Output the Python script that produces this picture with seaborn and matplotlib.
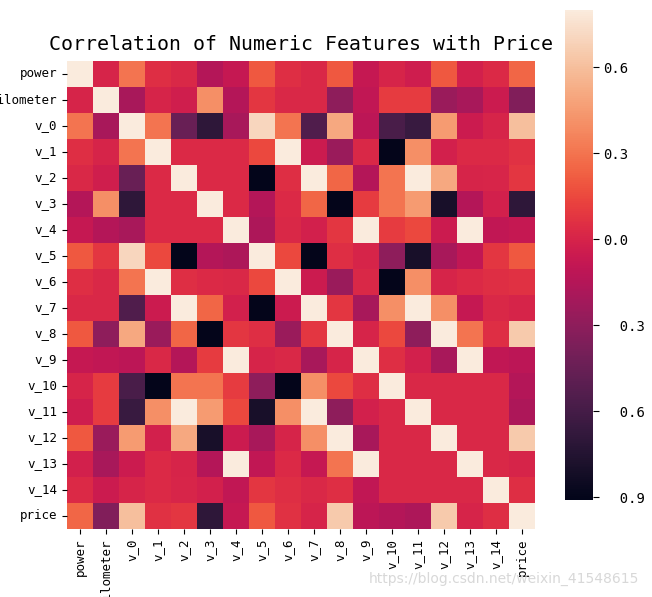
import numpy as np
import pandas as pd
import matplotlib
matplotlib.use("Agg")
import matplotlib.pyplot as plt
import seaborn as sns

labels = ["power", "kilometer", "v_0", "v_1", "v_2", "v_3", "v_4", "v_5", "v_6",
          "v_7", "v_8", "v_9", "v_10", "v_11", "v_12", "v_13", "v_14", "price"]

r_power = [1.00, 0.00, 0.30, 0.05, 0.02, -0.15, -0.08, 0.20, 0.05, 0.02, 0.20, -0.08, 0.00, -0.04, 0.20, -0.02, 0.03, 0.25]
r_kilometer = [0.00, 1.00, -0.20, 0.00, -0.03, 0.40, -0.15, 0.08, 0.02, 0.02, -0.30, -0.10, 0.10, 0.10, -0.25, -0.20, -0.05, -0.35]
r_v0 = [0.30, -0.20, 1.00, 0.30, -0.45, -0.70, -0.20, 0.70, 0.30, -0.55, 0.50, -0.12, -0.58, -0.65, 0.45, -0.05, 0.00, 0.60]
r_v1 = [0.05, 0.00, 0.30, 1.00, 0.03, 0.03, 0.03, 0.15, 0.95, -0.05, -0.25, 0.02, -0.90, 0.40, -0.02, 0.03, 0.03, 0.06]
r_v2 = [0.02, -0.03, -0.45, 0.03, 1.00, 0.03, 0.03, -0.91, 0.05, 0.80, 0.25, -0.15, 0.30, 0.80, 0.50, 0.00, 0.01, 0.08]
r_v3 = [-0.15, 0.40, -0.70, 0.03, 0.03, 1.00, 0.03, -0.15, 0.03, 0.25, -0.90, 0.10, 0.30, 0.45, -0.80, -0.15, -0.02, -0.70]
r_v4 = [-0.08, -0.15, -0.20, 0.03, 0.03, 0.03, 1.00, -0.18, 0.02, -0.02, 0.08, 0.90, 0.10, 0.15, -0.05, 0.90, -0.10, -0.08]
r_v5 = [0.20, 0.08, 0.70, 0.15, -0.91, -0.15, -0.18, 1.00, 0.15, -0.90, 0.05, 0.00, -0.30, -0.80, -0.20, -0.10, 0.08, 0.20]
r_v6 = [0.05, 0.02, 0.30, 0.95, 0.05, 0.03, 0.02, 0.15, 1.00, -0.05, -0.25, 0.02, -0.90, 0.40, 0.00, 0.03, 0.05, 0.06]
r_v7 = [0.02, 0.02, -0.55, -0.05, 0.80, 0.25, -0.02, -0.90, -0.05, 1.00, 0.08, -0.20, 0.40, 0.85, 0.40, -0.08, 0.02, 0.00]
r_v8 = [0.20, -0.30, 0.50, -0.25, 0.25, -0.90, 0.08, 0.05, -0.25, 0.08, 1.00, 0.00, 0.15, -0.30, 0.85, 0.30, 0.05, 0.65]
r_v9 = [-0.08, -0.10, -0.12, 0.02, -0.15, 0.10, 0.90, 0.00, 0.02, -0.20, 0.00, 1.00, 0.05, -0.02, -0.20, 0.90, -0.10, -0.12]
r_v10 = [0.00, 0.10, -0.58, -0.90, 0.30, 0.30, 0.10, -0.30, -0.90, 0.40, 0.15, 0.05, 1.00, 0.02, 0.02, 0.02, 0.02, -0.15]
r_v11 = [-0.04, 0.10, -0.65, 0.40, 0.80, 0.45, 0.15, -0.80, 0.40, 0.85, -0.30, -0.02, 0.02, 1.00, 0.02, 0.02, 0.02, -0.18]
r_v12 = [0.20, -0.25, 0.45, -0.02, 0.50, -0.80, -0.05, -0.20, 0.00, 0.40, 0.85, -0.20, 0.02, 0.02, 1.00, 0.02, 0.02, 0.65]
r_v13 = [-0.02, -0.20, -0.05, 0.03, 0.00, -0.15, 0.90, -0.10, 0.03, -0.08, 0.30, 0.90, 0.02, 0.02, 0.02, 1.00, 0.02, 0.00]
r_v14 = [0.03, -0.05, 0.00, 0.03, 0.01, -0.02, -0.10, 0.08, 0.05, 0.02, 0.05, -0.10, 0.02, 0.02, 0.02, 0.02, 1.00, 0.05]
r_price = [0.25, -0.35, 0.60, 0.06, 0.08, -0.70, -0.08, 0.20, 0.06, 0.00, 0.65, -0.12, -0.15, -0.18, 0.65, 0.00, 0.05, 1.00]

cbar_ticks = [0.6, 0.3, 0.0, -0.3, -0.6, -0.9]
cbar_ticklabels = ["0.6", "0.3", "0.0", "  0.3", "  0.6", "  0.9"]

rows = [r_power, r_kilometer, r_v0, r_v1, r_v2, r_v3, r_v4, r_v5, r_v6,
        r_v7, r_v8, r_v9, r_v10, r_v11, r_v12, r_v13, r_v14, r_price]
corr = pd.DataFrame(rows, index=labels, columns=labels)

plt.rcParams['font.family'] = ['DejaVu Sans Mono', 'DejaVu Sans']

fig = plt.figure(figsize=(6.52, 5.97), dpi=100)
ax = fig.add_axes([67/652, (597-530)/597, 468/652, 470/597])
cax = fig.add_axes([565/652, (597-500)/597, 28/652, 490/597])

sns.heatmap(corr, vmax=0.8, square=True, ax=ax, cbar_ax=cax)

ax.set_title("Correlation of Numeric Features with Price", fontsize=14.3, pad=8)
ax.set_xticks(np.arange(len(labels)) + 0.5)
ax.set_xticklabels(labels, rotation=90, fontsize=9)
ax.set_yticks(np.arange(len(labels)) + 0.5)
ax.set_yticklabels(labels, rotation=0, fontsize=9)

cax.set_yticks(cbar_ticks)
cax.set_yticklabels(cbar_ticklabels, fontsize=10)
cax.tick_params(length=4)

fig.text(0.98, 0.03, "https://blog.csdn.net/weixin_41548615", ha="right", va="center",
         fontsize=10, color="#d8d8d8", family="DejaVu Sans")

fig.savefig("out.png", dpi=100)
